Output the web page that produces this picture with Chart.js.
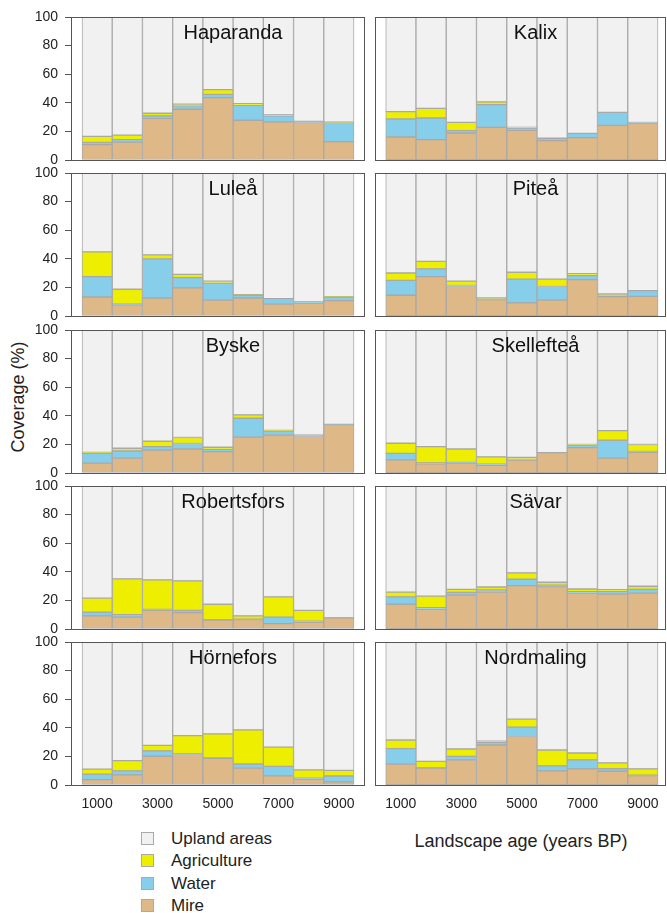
<!DOCTYPE html>
<html>
<head>
<meta charset="utf-8">
<script src="https://cdn.jsdelivr.net/npm/chart.js@4"></script>
<style>
  body { margin: 0; background: #fff; width: 667px; height: 913px; position: relative; overflow: hidden;
         font-family: "Liberation Sans", Arial, sans-serif; color: #222; }
  canvas { position: absolute; }
  .ylab { position: absolute; left: 18px; top: 397px; transform: translate(-50%, -50%) rotate(-90deg);
          font-size: 18px; white-space: nowrap; }
  .xlab { position: absolute; left: 521px; top: 841px; transform: translate(-50%, -50%);
          font-size: 18px; white-space: nowrap; }
  .legend { position: absolute; left: 141px; top: 828px; font-size: 17px; }
  .legend div { height: 22.4px; line-height: 22px; }
  .legend span { display: inline-block; width: 11px; height: 11px; border: 1px solid #aaa;
                 vertical-align: -1px; margin-right: 17px; }
</style>
</head>
<body>
<div class="ylab">Coverage (%)</div>
<div class="xlab">Landscape age (years BP)</div>
<div class="legend">
  <div><span style="background:#f1f1f1"></span>Upland areas</div>
  <div><span style="background:#eeee00"></span>Agriculture</div>
  <div><span style="background:#87ceeb"></span>Water</div>
  <div><span style="background:#deb887"></span>Mire</div>
</div>
<script>
const sites = ["Haparanda", "Kalix", "Luleå", "Piteå", "Byske", "Skellefteå",
               "Robertsfors", "Sävar", "Hörnefors", "Nordmaling"];
const ages = [1000, 2000, 3000, 4000, 5000, 6000, 7000, 8000, 9000];
const xTickLabels = [1000, 3000, 5000, 7000, 9000];
const yTickLabels = [0, 20, 40, 60, 80, 100];

// layer thickness (%) per site, bottom to top: mire, water, agriculture
const mire = [
  [10.7, 12.5, 29.2, 35.5, 43.6, 27.8, 26.7, 26.2, 12.8],
  [16.1, 14.2, 18.9, 22.8, 20.7, 13.5, 15.6, 24.2, 25.9],
  [13.3, 7.8, 12.6, 19.7, 11.1, 12.6, 8.3, 9.0, 10.7],
  [14.5, 27.5, 20.6, 11.4, 9.2, 11.1, 25.4, 13.5, 13.7],
  [6.9, 10.4, 16.1, 16.8, 14.9, 25.1, 26.5, 25.5, 33.8],
  [9.2, 6.4, 6.9, 5.4, 9.0, 14.2, 17.7, 10.4, 14.4],
  [9.2, 8.3, 13.0, 11.4, 6.2, 6.6, 3.8, 4.7, 7.8],
  [17.3, 13.7, 23.7, 25.8, 30.3, 29.6, 25.1, 24.4, 25.1],
  [3.8, 7.1, 20.1, 21.3, 18.7, 11.8, 6.4, 4.0, 2.2],
  [14.6, 11.8, 17.6, 28.0, 33.9, 9.9, 11.3, 9.6, 6.6]
];
const water = [
  [1.6, 1.7, 1.7, 2.3, 2.3, 10.5, 4.2, 0.8, 13.4],
  [12.6, 15.2, 1.6, 15.9, 1.7, 1.7, 3.0, 9.1, 0.3],
  [14.2, 0.5, 27.4, 7.1, 11.9, 1.9, 3.8, 0.7, 2.6],
  [10.4, 5.4, 0.7, 0.8, 16.6, 9.5, 2.8, 1.5, 4.1],
  [6.8, 5.0, 2.3, 3.8, 1.6, 13.2, 2.8, 1.0, 0.2],
  [4.5, 0.7, 0.5, 0.7, 0.7, 0, 1.9, 12.5, 0.7],
  [2.6, 1.7, 0.7, 1.6, 0.3, 0.2, 4.5, 0.8, 0.2],
  [5.2, 1.2, 1.9, 1.5, 4.5, 1.0, 1.0, 1.7, 2.6],
  [3.8, 2.8, 3.8, 0.4, 0.3, 2.9, 6.6, 0.7, 4.1],
  [10.8, 0.4, 2.4, 1.9, 6.6, 3.5, 6.3, 1.9, 0.3]
];
const agriculture = [
  [4.2, 3.2, 1.8, 1.2, 3.3, 1.1, 0.7, 0, 0.3],
  [5.1, 6.7, 5.8, 1.9, 0.4, 0, 0, 0, 0],
  [17.3, 10.4, 2.7, 2.3, 1.4, 0.4, 0, 0.3, 0.2],
  [5.2, 5.3, 3.1, 0.4, 4.8, 5.2, 1.4, 0.5, 0],
  [0.7, 1.9, 3.8, 4.2, 1.5, 2.4, 0.5, 0, 0],
  [7.1, 11.3, 9.4, 5.2, 1.2, 0, 0.3, 6.7, 4.8],
  [9.8, 25.1, 20.7, 20.6, 10.8, 2.4, 14.2, 7.5, 0],
  [3.3, 8.1, 2.1, 2.1, 4.5, 2.1, 1.9, 1.4, 2.2],
  [3.5, 7.1, 3.8, 12.8, 16.7, 23.8, 13.5, 5.9, 3.9],
  [6.1, 4.3, 5.2, 0.7, 5.6, 11.1, 4.8, 4.0, 4.4]
];

const colors = { mire: "#deb887", water: "#87ceeb", agri: "#eeee00", upland: "#f1f1f1" };
const edge = "#a9a9a9";
const font = "'Liberation Sans', Arial, sans-serif";

const panelPlugin = {
  id: "panel",
  afterDraw(chart) {
    const ctx = chart.ctx, a = chart.chartArea;
    ctx.save();
    ctx.strokeStyle = "#555";
    ctx.lineWidth = 1;
    ctx.strokeRect(Math.round(a.left) + 0.5, Math.round(a.top) + 0.5,
                   Math.round(a.right - a.left) - 1, Math.round(a.bottom - a.top));
    ctx.fillStyle = "#111";
    ctx.font = "20px " + font;
    ctx.textAlign = "center";
    ctx.textBaseline = "middle";
    ctx.fillText(chart.options.plugins.panel.text, (a.left + a.right) / 2 + 15, a.top + 16);
    ctx.restore();
  }
};

function makePanel(i) {
  const col = i % 2, row = Math.floor(i / 2);
  const bottomRow = row === 4;
  const plotTop = [17, 173, 330, 486, 642][row];
  const plotH = 143;
  const extra = bottomRow ? 34 : 8;
  const cv = document.createElement("canvas");
  const left = col === 0 ? 0 : 374;
  const width = col === 0 ? 366 : 293;
  cv.width = width;
  cv.height = 8 + plotH + extra;
  cv.style.left = left + "px";
  cv.style.top = (plotTop - 8) + "px";
  document.body.appendChild(cv);

  const upland = ages.map((_, k) => 100 - mire[i][k] - water[i][k] - agriculture[i][k]);
  const ds = (label, data, color) => ({
    label, data: ages.map((x, k) => ({ x, y: data[k] })), backgroundColor: color,
    borderColor: edge, borderWidth: 1, borderSkipped: false
  });

  new Chart(cv, {
    type: "bar",
    data: {
      datasets: [
        ds("Mire", mire[i], colors.mire),
        ds("Water", water[i], colors.water),
        ds("Agriculture", agriculture[i], colors.agri),
        ds("Upland areas", upland, colors.upland)
      ]
    },
    options: {
      responsive: false,
      animation: false,
      datasets: { bar: { barPercentage: 1, categoryPercentage: 1 } },
      layout: { autoPadding: false,
                padding: { top: 8, bottom: bottomRow ? 0 : 8, left: col === 0 ? 0 : 1, right: 1 } },
      plugins: { legend: { display: false }, tooltip: { enabled: false }, panel: { text: sites[i] } },
      scales: {
        x: {
          type: "linear", stacked: true, offset: false,
          min: col === 0 ? 136 : 146, max: col === 0 ? 9864 : 9764,
          afterBuildTicks: s => { s.ticks = xTickLabels.map(v => ({ value: v })); },
          afterFit: s => { s.height = bottomRow ? 34 : 0; s.paddingLeft = 0; s.paddingRight = 0; },
          grid: { display: false, drawTicks: false, offset: false },
          border: { display: false },
          ticks: { display: bottomRow, padding: 11, color: "#222", font: { family: font, size: 14 },
                   callback: v => String(v) }
        },
        y: {
          display: col === 0, stacked: true, min: 0, max: 100,
          afterBuildTicks: s => { s.ticks = yTickLabels.map(v => ({ value: v })); },
          afterFit: s => { if (col === 0) s.width = 71; s.paddingTop = 0; s.paddingBottom = 0; },
          grid: { drawOnChartArea: false, drawTicks: true, tickLength: 6, color: "#555" },
          border: { display: false },
          ticks: { padding: 7, color: "#222", font: { family: font, size: 14 } }
        }
      }
    },
    plugins: [panelPlugin]
  });
}

sites.forEach((_, i) => makePanel(i));
</script>
</body>
</html>
